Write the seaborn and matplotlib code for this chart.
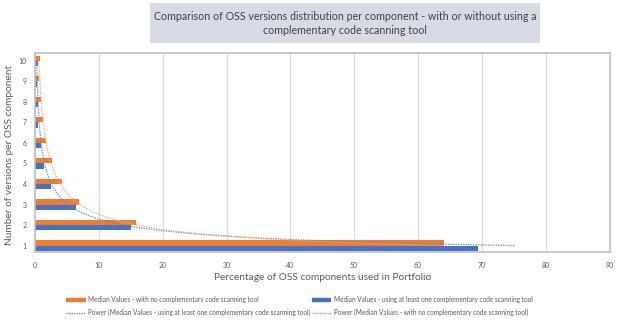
import numpy as np
import pandas as pd
import matplotlib
matplotlib.use("Agg")
import matplotlib.pyplot as plt
from matplotlib.patches import Rectangle
from matplotlib.lines import Line2D
import seaborn as sns

# ---- data ----
versions = [1, 2, 3, 4, 5, 6, 7, 8, 9, 10]
no_tool = [64.0, 15.9, 6.9, 4.2, 2.6, 1.8, 1.2, 0.9, 0.7, 0.75]
with_tool = [69.4, 15.1, 6.5, 2.5, 1.4, 0.95, 0.48, 0.42, 0.32, 0.42]
series_names = ["Median Values - with no complementary code scanning tool",
                "Median Values - using at least one complementary code scanning tool"]
trend_names = ["Power (Median Values - using at least one complementary code scanning tool)",
               "Power (Median Values - with no complementary code scanning tool)"]
xticks = [0, 10, 20, 30, 40, 50, 60, 70, 80, 90]
title = "Comparison of OSS versions distribution per component - with or without using a\ncomplementary code scanning tool"
xlabel = "Percentage of OSS components used in Portfolio"
ylabel = "Number of versions per OSS component"

ORANGE = "#ED7D31"
BLUE = "#4472C4"
TXT = "#595959"

sns.set_theme(style="white")
plt.rcParams["font.family"] = ["Lato", "DejaVu Sans"]

df = pd.DataFrame({
    "versions": [str(v) for v in versions] * 2,
    "value": no_tool + with_tool,
    "series": [series_names[0]] * len(versions) + [series_names[1]] * len(versions),
})
order = [str(v) for v in versions[::-1]]

fig = plt.figure(figsize=(6.24, 3.24), dpi=100)
W, H = 624, 324
ax = fig.add_axes([35 / W, 1 - 252.3 / H, 574.5 / W, 199.6 / H])

sns.barplot(data=df, x="value", y="versions", hue="series", order=order,
            hue_order=series_names, palette=[ORANGE, BLUE], orient="h",
            width=0.52, gap=0, ax=ax, legend=False, saturation=1,
            edgecolor="none")

# Power trendlines (least squares in log-log space, like Excel)
k = np.linspace(1, 10, 200)
def power_fit(vals):
    b, lna = np.polyfit(np.log(versions), np.log(vals), 1)
    return np.exp(lna) * k ** b
pos = lambda kk: len(versions) - kk   # category position (10 -> 0, 1 -> 9)
ax.plot(power_fit(with_tool), pos(k), color="#5B86D6", lw=0.9, ls=(0, (1, 1)))
ax.plot(power_fit(no_tool), pos(k), color="#F4A46E", lw=0.9, ls=(0, (1, 1)))

ax.set_xlim(0, 90)
ax.set_ylim(9.33, -0.4)
ax.set_xticks(xticks)
ax.set_xticklabels([str(t) for t in xticks])
ax.grid(axis="x", color="#D9D9D9", lw=0.8)
ax.grid(axis="y", visible=False)
ax.set_axisbelow(True)
for s in ax.spines.values():
    s.set_color("#BFBFBF")
    s.set_linewidth(1.2)
ax.tick_params(axis="both", labelsize=5, colors=TXT, length=0)
ax.tick_params(axis="x", pad=7)
ax.tick_params(axis="y", pad=6)
ax.set_xlabel(xlabel, fontsize=7.3, color=TXT, labelpad=3)
ax.set_ylabel(ylabel, fontsize=7.3, color=TXT)
ax.yaxis.set_label_coords(-21 / 574.5, 0.49)

# Title box
fig.patches.append(Rectangle((150 / W, 1 - 43 / H), 390 / W, 40 / H,
                             transform=fig.transFigure, facecolor="#D6DCE5",
                             edgecolor="none", zorder=0))
fig.text(345 / W, 1 - 23.5 / H, title, ha="center", va="center",
         fontsize=7.7, color="#404040", linespacing=1.35)

handles = [
    Line2D([], [], color=ORANGE, lw=3.2, solid_capstyle="butt"),
    Line2D([], [], color=BLUE, lw=0.9, ls=(0, (1, 1))),
    Line2D([], [], color=BLUE, lw=3.2, solid_capstyle="butt"),
    Line2D([], [], color=ORANGE, lw=0.9, ls=(0, (1, 1))),
]
labels = [series_names[0], trend_names[0], series_names[1], trend_names[1]]
fig.legend(handles, labels, ncol=2, loc="center left",
           bbox_to_anchor=(66 / W, 1 - 306 / H), frameon=False,
           fontsize=4.7, labelcolor=TXT, handlelength=3.0, handletextpad=0.4,
           columnspacing=0.2, labelspacing=0.9, borderpad=0, borderaxespad=0)

fig.savefig("out.png", dpi=100)
